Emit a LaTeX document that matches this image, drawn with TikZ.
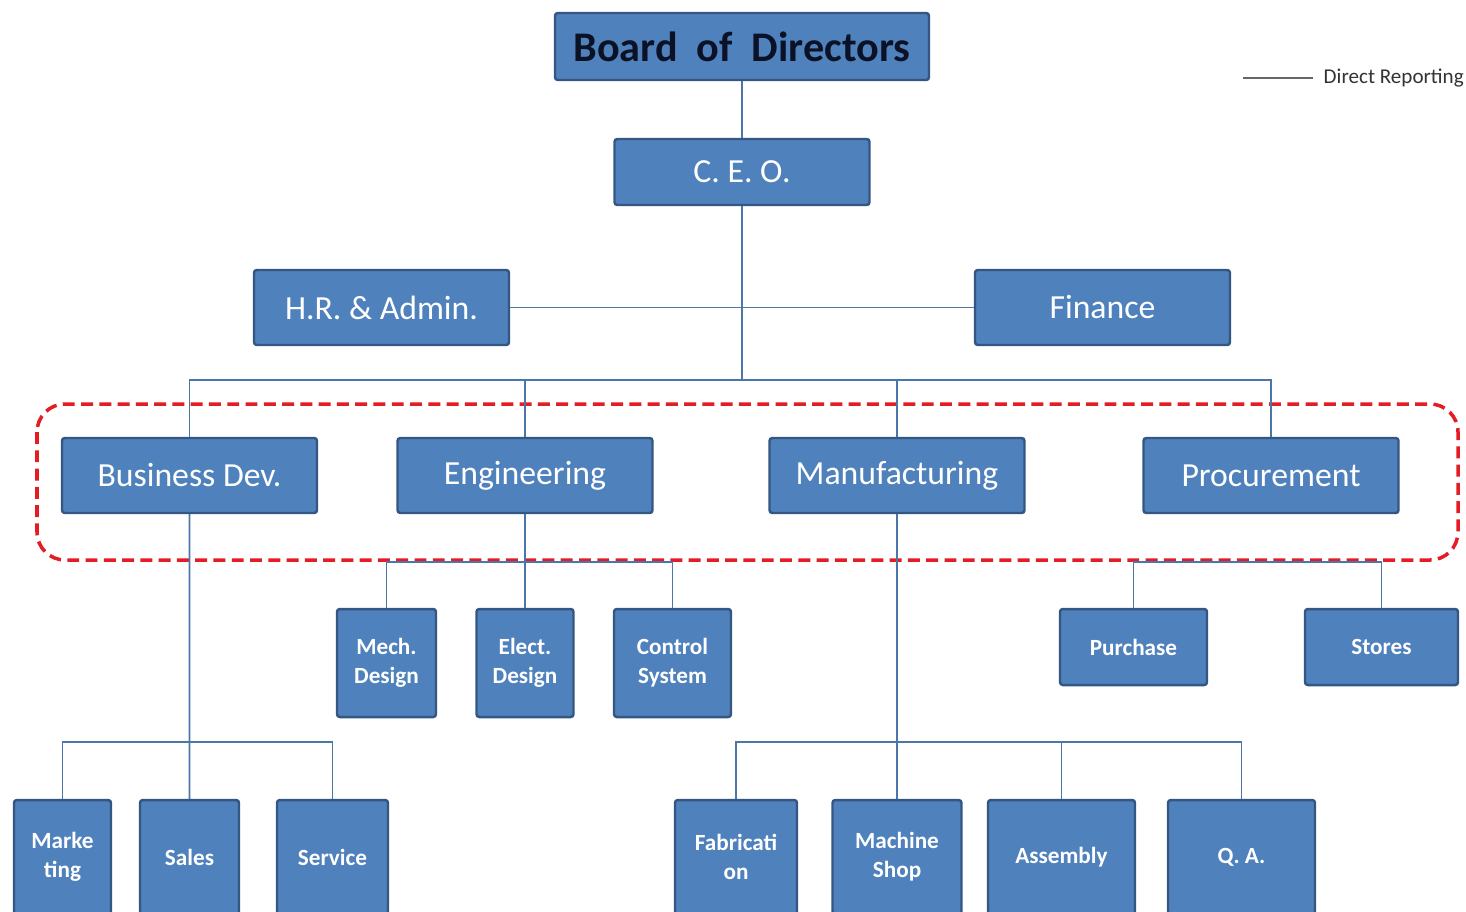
\documentclass[tikz,border=0pt]{standalone}
\usepackage{fontspec}
\setmainfont{Carlito}
\usepackage{tikz}
\usetikzlibrary{positioning}
\definecolor{boxblue}{RGB}{79,129,189}
\definecolor{boxedge}{RGB}{52,86,130}
\definecolor{linkblue}{RGB}{74,118,170}
\definecolor{dashred}{RGB}{228,28,36}
\definecolor{boardtext}{RGB}{12,18,38}

\begin{document}
\begin{tikzpicture}[node distance=2cm, on grid,
    unit/.style={draw=boxedge, fill=boxblue, line width=0.7pt, rounded corners=0.8pt, text=white,
      inner sep=0pt, minimum width=2.55cm, minimum height=0.75cm, font=\fontsize{9.6}{11}\selectfont},
    subunit/.style={unit, align=center, minimum height=1.08cm, font=\fontsize{6.6}{8.2}\selectfont\bfseries},
    link/.style={draw=linkblue, line width=0.5pt}]
        \useasboundingbox (0,0) rectangle (14.66,-9.11);
        \clip (0,0) rectangle (14.66,-9.11);

        \draw[dashred, line width=1pt, dash pattern=on 3.4pt off 1.8pt, rounded corners=0.28cm]
          (0.37,-4.04) rectangle (14.58,-5.60);

        \node[unit, minimum width=3.74cm, minimum height=0.67cm, text=boardtext,
          font=\fontsize{12}{14}\selectfont\bfseries] (board) at (7.42,-0.465) {Board\ \ of\ \ Directors};
        \node[unit, minimum height=0.66cm] (ceo) [below=1.255cm of board] {C. E. O.};
        \node[unit] (hr) at (3.815,-3.075) {H.R. \& Admin.};
        \node[unit] (finance) [right=7.21cm of hr] {Finance};

        \node[unit] (busdev) at (1.895,-4.755) {Business Dev.};
        \node[unit] (eng) [right=3.355cm of busdev] {Engineering};
        \node[unit] (manuf) [right=3.72cm of eng] {Manufacturing};
        \node[unit] (proc) [right=3.74cm of manuf] {Procurement};

        \node[subunit, minimum width=0.99cm] (mech) at (3.865,-6.63) {Mech.\\Design};
        \node[subunit, minimum width=0.97cm] (elect) [right=1.385cm of mech] {Elect.\\Design};
        \node[subunit, minimum width=1.17cm] (control) [right=1.475cm of elect] {Control\\System};

        \node[subunit, minimum width=1.47cm, minimum height=0.76cm] (purchase) at (11.335,-6.47) {Purchase};
        \node[subunit, minimum width=1.53cm, minimum height=0.76cm] (stores) [right=2.48cm of purchase] {Stores};

        \node[subunit, minimum width=0.97cm, minimum height=1.14cm] (marketing) at (0.625,-8.57) {Marke\\ting};
        \node[subunit, minimum width=0.99cm, minimum height=1.14cm] (sales) [right=1.27cm of marketing] {Sales};
        \node[subunit, minimum width=1.11cm, minimum height=1.14cm] (service) [right=1.43cm of sales] {Service};

        \node[subunit, minimum width=1.22cm, minimum height=1.14cm] (fab) at (7.36,-8.57) {Fabricati\\on};
        \node[subunit, minimum width=1.29cm, minimum height=1.14cm] (machine) [right=1.61cm of fab] {Machine\\Shop};
        \node[subunit, minimum width=1.47cm, minimum height=1.14cm] (assembly) [right=1.645cm of machine] {Assembly};
        \node[subunit, minimum width=1.47cm, minimum height=1.14cm] (qa) [right=1.80cm of assembly] {Q. A.};

        \node[anchor=west, inner sep=0pt, text=black!80, font=\fontsize{6}{7}\selectfont] (legend) at (13.23,-0.78) {Direct Reporting};
        \coordinate (legstart) at (12.43,-0.78);

        \coordinate (topbus) at (7.42,-3.80);
        \coordinate (engbus) at (0,-5.62);
        \coordinate (procbus) at (0,-5.62);
        \coordinate (bdbus) at (0,-7.42);
        \coordinate (mfbus) at (0,-7.42);

        \path[link]
          (board) edge (ceo)
          (ceo) edge (topbus)
          (hr) edge (finance)
          (eng) edge (elect)
          (busdev) edge (sales)
          (manuf) edge (machine);
        \draw[link] (busdev.north) |- (topbus) -| (proc.north);
        \draw[link] (eng.north) -- (eng.north |- topbus);
        \draw[link] (manuf.north) -- (manuf.north |- topbus);
        \draw[link] (mech.north) |- (engbus -| control.north) -- (control.north);
        \draw[link] (purchase.north) |- (procbus -| stores.north) -- (stores.north);
        \draw[link] (marketing.north) |- (bdbus -| service.north) -- (service.north);
        \draw[link] (fab.north) |- (mfbus -| qa.north) -- (qa.north);
        \draw[link] (assembly.north) -- (assembly.north |- mfbus);
        \draw[link, draw=black!60] (legstart) -- ([xshift=-0.1cm]legend.west);
  \end{tikzpicture}
\end{document}
